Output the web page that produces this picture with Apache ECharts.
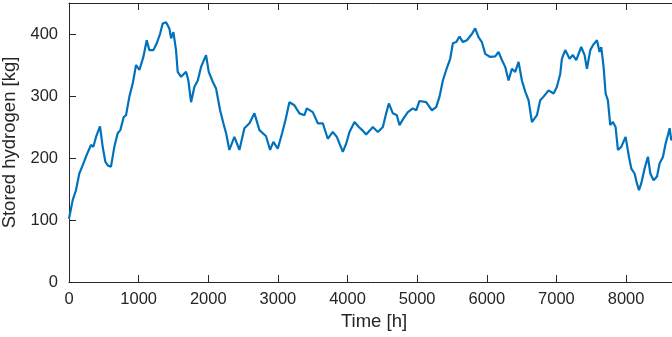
<!DOCTYPE html>
<html>
<head>
<meta charset="utf-8">
<script src="https://cdn.jsdelivr.net/npm/echarts@6/dist/echarts.min.js"></script>
<style>
  html, body { margin: 0; padding: 0; background: #fff; }
  #chart { width: 672px; height: 337px; }
</style>
</head>
<body>
<div id="chart"></div>
<script>
// time in hours
const hours = [
  0, 53, 100, 148, 196, 254, 316, 350, 388, 445, 484, 522, 556, 603, 651, 699, 737, 786, 819, 867,
  915, 963, 1011, 1068, 1116, 1154, 1212, 1260, 1307, 1346, 1394, 1441, 1466, 1499, 1537, 1561, 1609, 1681, 1714, 1753,
  1801, 1849, 1897, 1968, 2007, 2064, 2112, 2170, 2217, 2256, 2303, 2375, 2447, 2519, 2591, 2663, 2735, 2830, 2888, 2935,
  2998, 3060, 3108, 3165, 3237, 3309, 3381, 3415, 3501, 3573, 3645, 3716, 3788, 3846, 3932, 3980, 4028, 4100, 4162, 4210,
  4267, 4325, 4363, 4435, 4507, 4555, 4593, 4651, 4708, 4746, 4804, 4866, 4938, 4986, 5033, 5129, 5211, 5273, 5321, 5369,
  5417, 5474, 5513, 5560, 5608, 5656, 5714, 5786, 5833, 5881, 5929, 5977, 6049, 6121, 6168, 6217, 6264, 6312, 6360, 6408,
  6456, 6504, 6552, 6600, 6648, 6720, 6767, 6815, 6887, 6959, 7007, 7055, 7078, 7126, 7189, 7236, 7284, 7356, 7404, 7438,
  7486, 7524, 7582, 7619, 7644, 7677, 7706, 7739, 7773, 7811, 7849, 7883, 7931, 7993, 8041, 8075, 8122, 8156, 8185, 8218,
  8266, 8314, 8348, 8395, 8444, 8481, 8530, 8567, 8601, 8625, 8649, 8700, 8760
];
// stored hydrogen in kg
const storedKg = [
  102, 132, 148, 175, 188, 205, 221, 218, 234, 251, 218, 194, 188, 186, 218, 240, 245, 266, 269, 299,
  320, 350, 342, 363, 390, 374, 374, 385, 400, 417, 419, 409, 393, 403, 374, 339, 331, 339, 325, 290,
  315, 325, 347, 366, 339, 323, 312, 277, 256, 240, 213, 234, 213, 248, 256, 272, 245, 235, 213, 226,
  215, 240, 261, 290, 285, 272, 269, 280, 274, 256, 256, 231, 242, 234, 210, 223, 242, 258, 250, 245,
  238, 245, 250, 242, 250, 272, 288, 272, 269, 253, 264, 274, 280, 277, 292, 290, 277, 282, 299, 325,
  342, 360, 385, 387, 396, 387, 390, 400, 409, 395, 387, 368, 363, 364, 371, 358, 347, 325, 344, 339,
  355, 325, 307, 293, 258, 269, 293, 299, 309, 304, 315, 336, 360, 374, 360, 366, 358, 379, 366, 344,
  374, 382, 390, 371, 379, 347, 304, 293, 253, 258, 250, 213, 218, 234, 202, 183, 175, 159, 148, 159,
  183, 202, 175, 164, 170, 191, 202, 223, 237, 248, 229, 235, 240
];
const xTicks = [0, 1000, 2000, 3000, 4000, 5000, 6000, 7000, 8000];
const yTicks = [0, 100, 200, 300, 400];

const chart = echarts.init(document.getElementById('chart'));

const axisColor = '#262626';
const font = 'Liberation Sans, Arial, Helvetica, sans-serif';

const option = {
  backgroundColor: '#ffffff',
  animation: false,
  grid: { left: 69, right: -7, top: 3, bottom: 55, containLabel: false, outerBoundsMode: 'none' },
  xAxis: [
    {
      type: 'value',
      min: 0,
      max: 8760,
      interval: 1000,
      name: 'Time [h]',
      nameLocation: 'middle',
      nameGap: 30,
      nameTextStyle: { color: axisColor, fontSize: 18.5, fontFamily: font },
      axisLine: { show: true, lineStyle: { color: axisColor, width: 1 } },
      axisTick: { show: true, inside: true, length: 7, lineStyle: { color: axisColor } },
      axisLabel: {
        color: axisColor, fontSize: 16.5, fontFamily: font, margin: 9,
        showMaxLabel: false,
        formatter: v => (xTicks.includes(v) ? String(v) : '')
      },
      splitLine: { show: false }
    },
    {
      type: 'value',
      position: 'top',
      min: 0,
      max: 8760,
      interval: 1000,
      axisLine: { show: true, lineStyle: { color: axisColor, width: 1 } },
      axisTick: { show: true, inside: true, length: 7, lineStyle: { color: axisColor } },
      axisLabel: { show: false },
      splitLine: { show: false }
    }
  ],
  yAxis: {
    type: 'value',
    min: 0,
    max: 450,
    interval: 100,
    name: 'Stored hydrogen [kg]',
    nameLocation: 'middle',
    nameGap: 45,
    nameTextStyle: { color: axisColor, fontSize: 18.5, fontFamily: font },
    axisLine: { show: true, lineStyle: { color: axisColor, width: 1 } },
    axisTick: { show: true, inside: true, length: 7, lineStyle: { color: axisColor } },
    axisLabel: {
      color: axisColor, fontSize: 16.5, fontFamily: font, margin: 11,
      showMaxLabel: false,
      formatter: v => (yTicks.includes(v) ? String(v) : '')
    },
    splitLine: { show: false }
  },
  series: [
    {
      type: 'line',
      xAxisIndex: 0,
      data: hours.map((h, i) => [h, storedKg[i]]),
      showSymbol: false,
      lineStyle: { color: '#0072BD', width: 2.2 },
      clip: true
    }
  ]
};

chart.setOption(option);
</script>
</body>
</html>
